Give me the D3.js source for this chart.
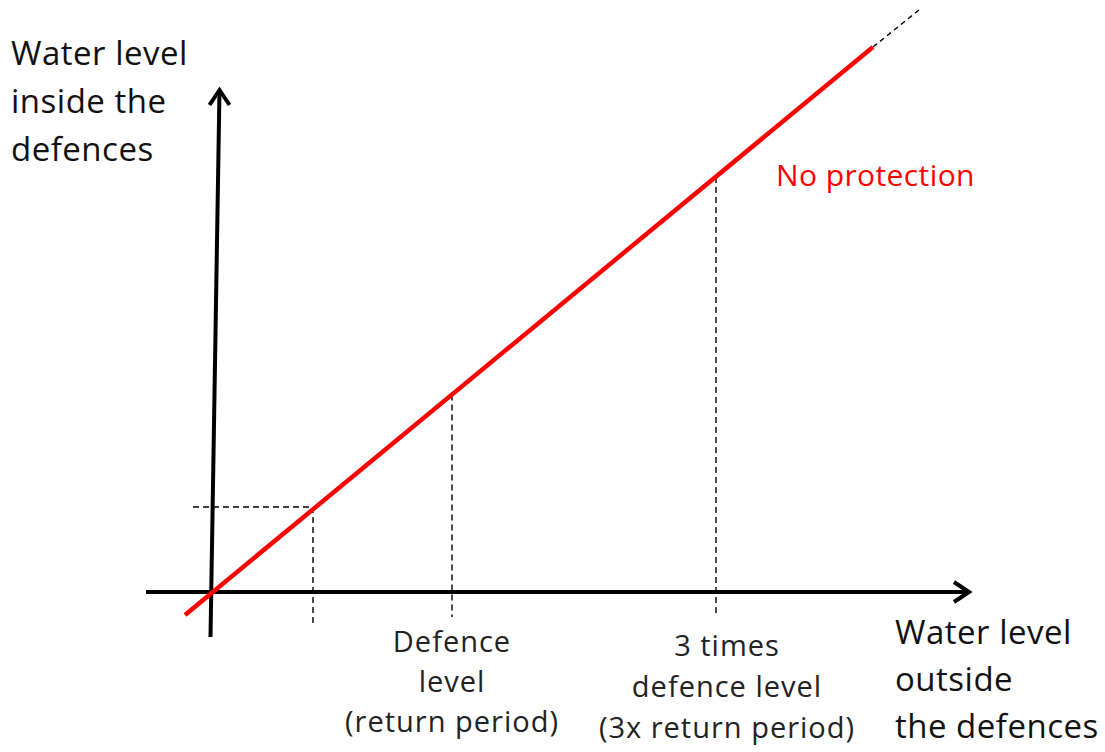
<!DOCTYPE html>
<html lang="en">
<head>
<meta charset="UTF-8">
<title>Water level inside vs outside the defences</title>
<style>
body { margin: 0; background: #fff; }
svg { display: block; }
text { font-family: 'Open Sans', sans-serif; fill: #111; }
</style>
</head>
<body>
<svg width="1105" height="752"></svg>
<script src="https://cdn.jsdelivr.net/npm/d3@7"></script>
<script>

// outside water level (x) vs inside water level (y), arbitrary units
var xAxisExtent = [-1.3, 15.2];
var yAxisBottom = [-0.01, -0.9];
var yAxisTop = [0.17, 10.08];

var noProtection = [[-0.52, -0.46], [13.24, 10.9]];
var noProtectionBeyond = [[13.24, 10.9], [14.16, 11.64]];

// dashed guide lines: outside level, inside level, how far below the axis they run
var markerOutside = [2.04, 4.82, 10.1];
var markerInside = [1.7, 3.95, 8.3];
var markerBottom = [-0.7, -0.5, -0.5];
var guideLeft = -0.36;

var yTitle = ["Water level", "inside the", "defences"];
var xTitle = ["Water level", "outside", "the defences"];
var markerLabels = [
    [],
    ["Defence", "level", "(return period)"],
    ["3 times", "defence level", "(3x return period)"]
];

var svg = d3.select("svg");

var x = d3.scaleLinear().domain([0, 10]).range([211, 711]);
var y = d3.scaleLinear().domain([0, 10]).range([592, 92]);

var line = d3.line()
    .x(function(d) { return x(d[0]); })
    .y(function(d) { return y(d[1]); });

// guide lines
var guides = svg.append("g")
    .attr("stroke", "#000")
    .attr("stroke-width", 1.4)
    .attr("stroke-dasharray", "6,4");

markerOutside.forEach(function(v, i) {
    guides.append("line")
        .attr("x1", x(v)).attr("x2", x(v))
        .attr("y1", y(markerInside[i])).attr("y2", y(markerBottom[i]));
});

guides.append("line")
    .attr("x1", x(guideLeft)).attr("x2", x(markerOutside[0]))
    .attr("y1", y(markerInside[0])).attr("y2", y(markerInside[0]));

// axes with chevron heads
var axes = svg.append("g")
    .attr("stroke", "#000")
    .attr("stroke-width", 4)
    .attr("fill", "none");

var xTip = [x(xAxisExtent[1]), y(0)];
axes.append("line")
    .attr("x1", x(xAxisExtent[0])).attr("y1", y(0))
    .attr("x2", xTip[0] - 2).attr("y2", y(0));
axes.append("path")
    .attr("stroke-linejoin", "miter")
    .attr("d", "M" + (xTip[0] - 17) + "," + (xTip[1] - 10) +
               "L" + (xTip[0] - 2) + "," + xTip[1] +
               "L" + (xTip[0] - 17) + "," + (xTip[1] + 10));

var yTip = [x(yAxisTop[0]), y(yAxisTop[1])];
axes.append("line")
    .attr("x1", x(yAxisBottom[0])).attr("y1", y(yAxisBottom[1]))
    .attr("x2", yTip[0]).attr("y2", yTip[1] + 2);
axes.append("path")
    .attr("stroke-linejoin", "miter")
    .attr("d", "M" + (yTip[0] - 10) + "," + (yTip[1] + 17) +
               "L" + yTip[0] + "," + (yTip[1] + 2) +
               "L" + (yTip[0] + 10) + "," + (yTip[1] + 17));

// no protection line
svg.append("path")
    .datum(noProtectionBeyond)
    .attr("d", line)
    .attr("fill", "none")
    .attr("stroke", "#000")
    .attr("stroke-width", 1.4)
    .attr("stroke-dasharray", "5,4");

svg.append("path")
    .datum(noProtection)
    .attr("d", line)
    .attr("fill", "none")
    .attr("stroke", "#ff0000")
    .attr("stroke-width", 4.5);

svg.append("text")
    .attr("x", 776)
    .attr("y", 186)
    .style("font-size", "30px")
    .style("letter-spacing", "0.4px")
    .style("fill", "#ff0000")
    .text("No protection");

// axis titles
svg.append("text")
    .attr("x", 11)
    .attr("y", 65)
    .style("font-size", "33px")
    .style("letter-spacing", "0.5px")
    .selectAll("tspan")
    .data(yTitle)
    .enter().append("tspan")
    .attr("x", 11)
    .attr("dy", function(d, i) { return i === 0 ? 0 : 48; })
    .text(function(d) { return d; });

svg.append("text")
    .attr("x", 895)
    .attr("y", 644)
    .style("font-size", "33px")
    .style("letter-spacing", "0.5px")
    .selectAll("tspan")
    .data(xTitle)
    .enter().append("tspan")
    .attr("x", 895)
    .attr("dy", function(d, i) { return i === 0 ? 0 : 47; })
    .text(function(d) { return d; });

// marker labels
var labelOffsets = [0, 0, 11];
var labelTops = [0, 652, 656];
var labelSteps = [0, 40, 41];
markerLabels.forEach(function(lines, i) {
    if (!lines.length) return;
    var cx = x(markerOutside[i]) + labelOffsets[i];
    svg.append("text")
        .attr("text-anchor", "middle")
        .attr("y", labelTops[i])
        .style("font-size", "29px")
        .style("letter-spacing", "1px")
        .style("fill", "#222")
        .selectAll("tspan")
        .data(lines)
        .enter().append("tspan")
        .attr("x", cx)
        .attr("dy", function(d, j) { return j === 0 ? 0 : labelSteps[i]; })
        .text(function(d) { return d; });
});

</script>
</body>
</html>
